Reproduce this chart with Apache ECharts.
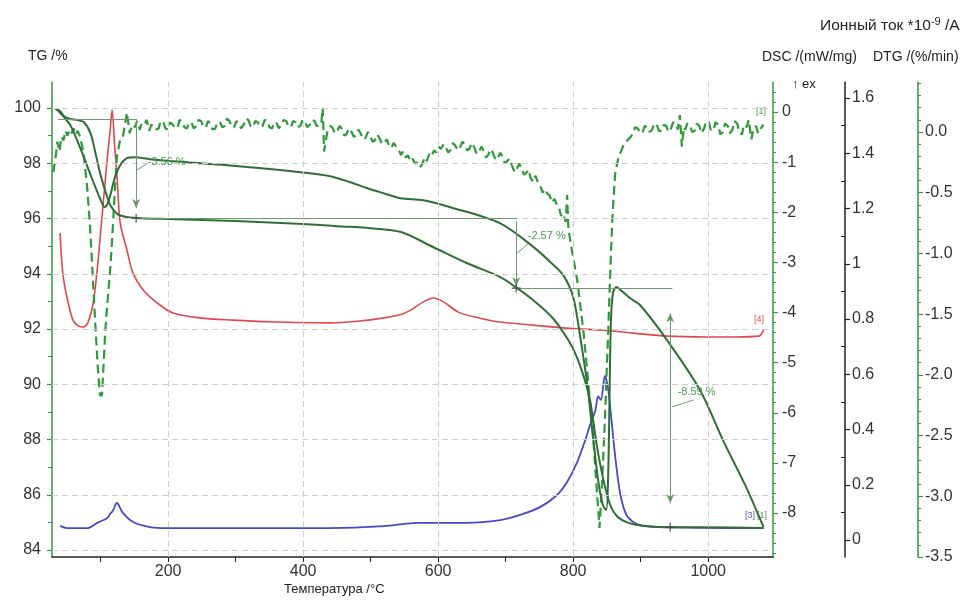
<!DOCTYPE html>
<html><head><meta charset="utf-8">
<script src="https://cdn.jsdelivr.net/npm/echarts@6/dist/echarts.min.js"></script>
<style>html,body{margin:0;padding:0;background:#fff}#c{width:974px;height:602px}</style>
</head><body><div id="c"></div>
<script>
// ---------- tick labels ----------
const xTicks = [200, 400, 600, 800, 1000];
const xTickMarks = [100, 200, 300, 400, 500, 600, 700, 800, 900, 1000];
const tgTicks = [84, 86, 88, 90, 92, 94, 96, 98, 100];
const dscTicks = [0, -1, -2, -3, -4, -5, -6, -7, -8];
const ionTicks = [0, 0.2, 0.4, 0.6, 0.8, 1.0, 1.2, 1.4, 1.6];
const dtgTicks = [0.0, -0.5, -1.0, -1.5, -2.0, -2.5, -3.0, -3.5];

// ---------- series data: [temperature °C, value] ----------
const tgData = [[35,99.96],[45,99.71],[55,99.60],[65,99.57],[75,99.49],[85,99.09],[92,98.41],[100,97.57],[108,96.92],[115,96.45],[125,96.16],[140,96.05],[160,96.01],[200,95.98],[300,95.91],[400,95.80],[450,95.72],[500,95.65],[545,95.51],[593,94.96],[643,94.38],[692,93.88],[717,93.48],[741,93.04],[770,92.39],[793,91.59],[805,91.01],[815,90.33],[825,89.42],[835,87.79],[845,86.52],[855,85.62],[865,85.22],[880,85.00],[900,84.89],[950,84.82],[1000,84.82],[1082,84.80]];

const dscData = [[33,0.06],[40,0.02],[47,-0.12],[55,-0.26],[62,-0.46],[74,-0.86],[87,-1.32],[99,-1.72],[106,-1.90],[110,-1.84],[114,-1.68],[121,-1.32],[129,-1.06],[139,-0.92],[151,-0.90],[173,-0.94],[247,-1.02],[321,-1.10],[396,-1.20],[440,-1.28],[470,-1.40],[495,-1.52],[519,-1.62],[544,-1.72],[578,-1.76],[618,-1.90],[692,-2.22],[741,-2.69],[766,-2.99],[785,-3.25],[800,-3.69],[810,-4.45],[821,-5.45],[830,-6.55],[837,-7.35],[844,-7.84],[849,-7.94],[852,-7.15],[854,-5.55],[856,-4.15],[859,-3.61],[864,-3.49],[870,-3.55],[884,-3.71],[899,-3.85],[939,-4.55],[988,-5.55],[1022,-6.55],[1055,-7.45],[1082,-8.28]];

const dtgData = [[30,-0.33],[33,-0.22],[36,-0.08],[39,-0.16],[42,-0.04],[45,-0.07],[48,0.01],[51,-0.03],[54,0.02],[57,-0.01],[60,0.03],[63,-0.02],[66,0.01],[69,-0.03],[72,-0.10],[75,-0.18],[80,-0.45],[84,-0.75],[88,-1.15],[92,-1.57],[96,-1.95],[99,-2.17],[102,-2.17],[105,-1.85],[107,-1.63],[110,-1.41],[114,-1.15],[117,-0.89],[121,-0.50],[124,-0.21],[129,-0.06],[133,-0.04],[139,0.16],[143,-0.01],
[147,0.06],[151,0.04],[154,0.09],[158,0.02],[161,0.07],[165,0.06],[168,0.10],[172,0.01],[175,0.06],[179,0.05],[182,0.02],[186,0.03],[189,0.09],[193,0.08],[196,0.03],[200,0.02],[203,0.08],[207,0.06],[210,0.03],[214,0.04],[217,0.10],[221,0.08],[224,0.04],[228,0.03],[231,0.08],[235,0.07],[238,0.03],[242,0.05],[245,0.10],[249,0.09],[252,0.04],[256,0.04],[259,0.09],[263,0.07],[266,0.02],[270,0.03],[273,0.08],[277,0.08],[280,0.04],[284,0.05],[287,0.11],[291,0.09],[294,0.04],[298,0.04],[301,0.09],[305,0.07],[308,0.03],[312,0.06],[315,0.11],[319,0.10],[322,0.05],[326,0.04],[329,0.09],[333,0.08],[336,0.04],[340,0.05],[343,0.10],[347,0.09],[350,0.04],[354,0.03],[357,0.08],[361,0.07],[364,0.03],[368,0.06],[371,0.10],[375,0.09],[378,0.05],[382,0.04],[385,0.09],[389,0.08],[392,0.04],[396,0.05],[399,0.10],[403,0.08],[406,0.04],[410,0.06],[413,0.10],[417,0.09],[420,0.05],[424,0.05],[427,0.08],
[429,0.20],[431,-0.16],[436,0.01],[440,0.05],[443,0.04],[447,-0.01],[450,0.00],[454,0.05],[457,0.03],[461,-0.03],[464,-0.02],[468,0.03],[471,0.01],[475,-0.04],[478,-0.03],[482,0.02],[485,-0.01],[489,-0.06],[492,-0.05],[496,0.00],[499,-0.03],[503,-0.08],[506,-0.07],[510,-0.02],[513,-0.05],[517,-0.10],[520,-0.09],[524,-0.06],[527,-0.11],[531,-0.13],[534,-0.09],[538,-0.12],[541,-0.14],[545,-0.19],[548,-0.16],[552,-0.21],[555,-0.19],[559,-0.24],[562,-0.22],[566,-0.26],[569,-0.25],[573,-0.29],[576,-0.27],[580,-0.21],[583,-0.24],[587,-0.18],[590,-0.20],[594,-0.15],[597,-0.17],[601,-0.12],[604,-0.14],[608,-0.10],[611,-0.12],[615,-0.17],[618,-0.15],[622,-0.09],[625,-0.11],[629,-0.15],[632,-0.13],[636,-0.08],[639,-0.10],[643,-0.15],[646,-0.14],[650,-0.09],[653,-0.12],[657,-0.18],[660,-0.17],[664,-0.12],[667,-0.15],[671,-0.21],[674,-0.19],[678,-0.14],[681,-0.17],[685,-0.23],[688,-0.22],[692,-0.17],[695,-0.20],[699,-0.26],[702,-0.24],[706,-0.22],[709,-0.27],[713,-0.33],[716,-0.31],[720,-0.26],[723,-0.29],[727,-0.35],[730,-0.34],[734,-0.31],[737,-0.38],[741,-0.41],[744,-0.36],[748,-0.42],[751,-0.44],[755,-0.50],[758,-0.47],[762,-0.51],[765,-0.52],[769,-0.58],[772,-0.55],[776,-0.60],[779,-0.62],[782,-0.69],[785,-0.67],[789,-0.74],[791,-0.52],[793,-0.80],[798,-0.97],[806,-1.22],[815,-1.63],[822,-2.04],[830,-2.54],[836,-3.03],[839,-3.26],[843,-2.87],[847,-2.37],[852,-1.63],[855,-1.14],[858,-0.72],[862,-0.35],[867,-0.21],[873,-0.13],[877,-0.08],[880,-0.07],[885,-0.04],[889,-0.01],
[892,0.04],[896,0.03],[899,-0.01],[903,0.00],[906,0.05],[910,0.04],[913,0.00],[917,0.02],[920,0.07],[924,0.06],[927,0.01],[931,0.01],[934,0.06],[938,0.05],[941,0.00],[945,0.03],[948,0.08],[952,0.07],[955,0.02],[958,0.14],[961,-0.12],[964,0.04],[966,0.02],[969,0.07],[973,0.06],[976,0.00],[980,0.01],[983,0.07],[987,0.05],[990,-0.01],[994,0.03],[997,0.09],[1001,0.08],[1004,0.01],[1008,0.02],[1011,0.08],[1015,0.06],[1018,-0.02],[1022,0.00],[1025,0.07],[1029,0.05],[1032,-0.01],[1036,0.02],[1039,0.09],[1043,0.07],[1046,0.00],[1050,-0.02],[1053,0.06],[1057,0.04],[1060,0.10],[1064,-0.06],[1067,0.03],[1071,0.05],[1074,-0.01],[1078,0.03],[1082,0.06]];

const ionRedData = [[40,1.111],[44,0.966],[50,0.880],[59,0.796],[67,0.775],[74,0.771],[81,0.786],[89,0.858],[95,0.98],[99,1.086],[105,1.25],[110,1.386],[114,1.48],[117,1.557],[121,1.42],[124,1.33],[129,1.148],[139,1.05],[148,0.966],[163,0.905],[184,0.858],[207,0.822],[247,0.804],[296,0.796],[350,0.790],[440,0.786],[480,0.792],[520,0.804],[545,0.816],[560,0.833],[578,0.862],[593,0.876],[608,0.862],[630,0.825],[660,0.804],[692,0.789],[741,0.778],[790,0.767],[840,0.760],[889,0.749],[939,0.738],[1000,0.735],[1040,0.735],[1075,0.738],[1082,0.76]];

const ionBlueData = [[40,0.051],[50,0.043],[80,0.043],[95,0.062],[110,0.080],[114,0.095],[118,0.105],[124,0.134],[133,0.098],[148,0.065],[173,0.047],[199,0.043],[440,0.043],[520,0.050],[569,0.062],[643,0.062],[692,0.072],[717,0.087],[751,0.119],[776,0.163],[791,0.210],[806,0.282],[818,0.362],[825,0.416],[833,0.471],[837,0.521],[841,0.507],[847,0.594],[852,0.543],[856,0.452],[862,0.308],[870,0.163],[880,0.087],[899,0.054],[929,0.047],[1082,0.043]];

// ---------- step annotations (TG units) ----------
const stepLevels = [[37,154,99.60],[152.6,717,96.01],[715.6,947,93.48]];   // [T from, T to, TG]
const stepArrows = [[152.6,99.60,96.38,'none','arrow'],[715.6,95.90,93.55,'none','arrow'],[943.7,92.57,85.69,'arrow','arrow']];
const stepMarks = [[152.6,96.01],[715.6,93.48],[943.7,84.82]];
const stepLabelPos = [[169,98.05],[732,95.37],[954,89.72]];
const stepLabels = ['-3.56 %','-2.57 %','-8.59 %'];
const stepLeaders = [[154,97.76,168,97.97],[717,94.75,733,95.08],[947,89.18,978,89.43]];

// ---------- ranges ----------
const xRange = [28, 1096];
const tgRange = [83.747, 100.941];
const dscRange = [-8.878, 0.599];
const ionRange = [-0.0615, 1.658];
const dtgRange = [-3.5, 0.412];

function steps(a, b, s, skip) {
  const out = [];
  for (let v = a; v >= b - 1e-9; v -= s) {
    const r = Math.round(v * 1000) / 1000;
    if (!skip(r)) out.push(r);
  }
  return out;
}
const isMult = (v, m) => Math.abs(v / m - Math.round(v / m)) < 1e-6;
const tgMinor = steps(99, 85, 2, () => false);
const dscMinor = steps(0.4, -8.8, 0.2, v => isMult(v, 1));
const ionMinor = steps(1.6, 0, 0.1, v => isMult(v, 0.2));
const dtgMinor = steps(0.4, -3.5, 0.1, v => isMult(v, 0.5));

const GREEN_AX = '#2f9a3e';
const FONT = 'Liberation Sans, Arial, sans-serif';
const labelStyle = {fontSize: 16, color: '#333', fontFamily: FONT};

function majorAxis(o) {
  return Object.assign({
    type: 'value', splitLine: {show: false},
    axisLine: {show: true, onZero: false, lineStyle: {color: o.color, width: 1.5}},
    axisTick: {show: true, customValues: o.ticks, length: 5, inside: false, lineStyle: {color: o.color, width: 1.2}},
    axisLabel: Object.assign({customValues: o.ticks, margin: o.margin, formatter: o.fmt}, labelStyle)
  }, {position: o.position, offset: o.offset || 0, min: o.range[0], max: o.range[1]});
}
function minorAxis(o) {
  return {
    type: 'value', position: o.position, offset: o.offset || 0, min: o.range[0], max: o.range[1],
    splitLine: {show: false}, axisLine: {show: false, onZero: false}, axisLabel: {show: false},
    axisTick: {show: true, customValues: o.ticks, length: o.len || 3, inside: !!o.inside, lineStyle: {color: o.color, width: 1}}
  };
}

const yAxes = [
  majorAxis({position: 'left', range: tgRange, ticks: tgTicks, color: GREEN_AX, margin: 11}),
  majorAxis({position: 'right', range: dscRange, ticks: dscTicks, color: GREEN_AX, margin: 9}),
  majorAxis({position: 'right', offset: 72, range: ionRange, ticks: ionTicks, color: '#222', margin: 7}),
  majorAxis({position: 'right', offset: 145, range: dtgRange, ticks: dtgTicks, color: GREEN_AX, margin: 7, fmt: v => v.toFixed(1)}),
  minorAxis({position: 'left', range: tgRange, ticks: tgMinor, color: GREEN_AX, len: 4}),
  minorAxis({position: 'right', range: dscRange, ticks: dscMinor, color: GREEN_AX, len: 3}),
  minorAxis({position: 'right', offset: 72, range: ionRange, ticks: ionMinor, color: '#222', len: 4, inside: true}),
  minorAxis({position: 'right', offset: 145, range: dtgRange, ticks: dtgMinor, color: GREEN_AX, len: 3})
];

const annLine = {color: '#6f9a6f', width: 1, type: 'solid'};
const markLines = [];
stepLevels.forEach(s => markLines.push([{coord: [s[0], s[2]], symbol: 'none'}, {coord: [s[1], s[2]], symbol: 'none'}]));
stepArrows.forEach(s => markLines.push([{coord: [s[0], s[1]], symbol: s[3], symbolSize: [6, 9]}, {coord: [s[0], s[2]], symbol: s[4], symbolSize: [6, 9]}]));
stepLeaders.forEach(s => markLines.push([{coord: [s[0], s[1]], symbol: 'none'}, {coord: [s[2], s[3]], symbol: 'none'}]));

const plusPath = 'path://M0,4.4H10V5.6H0ZM4.4,0H5.6V10H4.4Z';
const markPoints = [];
stepMarks.forEach(p => markPoints.push({coord: p, symbol: plusPath, symbolSize: 9, itemStyle: {color: '#3b4a3b'}, label: {show: false}}));
stepLabelPos.forEach((p, i) => markPoints.push({
  coord: p, symbol: 'rect', symbolSize: 1, itemStyle: {color: 'rgba(0,0,0,0)'},
  label: {show: true, position: 'right', distance: 0, formatter: stepLabels[i], color: '#4f9a55', fontSize: 11, fontFamily: FONT}
}));

const gridLines = tgTicks.map(v => ({yAxis: v})).concat(xTicks.map(v => ({xAxis: v})));

const option = {
  animation: false,
  backgroundColor: '#fff',
  grid: {left: 52, right: 201, top: 82, bottom: 45, containLabel: false},
  xAxis: {
    type: 'value', min: xRange[0], max: xRange[1], splitLine: {show: false}, position: 'bottom',
    axisLine: {show: true, onZero: false, lineStyle: {color: '#222', width: 1.5}},
    axisTick: {show: true, customValues: xTickMarks, length: 5, lineStyle: {color: '#222'}},
    axisLabel: Object.assign({customValues: xTicks, margin: 7, formatter: v => String(v)}, labelStyle)
  },
  yAxis: yAxes,
  graphic: [
    {type: 'text', left: 28, top: 49, style: {text: 'TG /%', fontSize: 14, fill: '#222', fontFamily: FONT}},
    {type: 'text', left: 820, top: 16, style: {text: 'Ионный ток *10{s|-9} /A', fontSize: 15.5, fill: '#222', fontFamily: FONT,
      rich: {s: {fontSize: 11, verticalAlign: 'top', fill: '#222', padding: [0, 0, 8, 0], fontFamily: FONT}}}},
    {type: 'text', left: 762, top: 50, style: {text: 'DSC /(mW/mg)', fontSize: 14, fill: '#222', fontFamily: FONT}},
    {type: 'text', left: 873, top: 50, style: {text: 'DTG /(%/min)', fontSize: 14, fill: '#222', fontFamily: FONT}},
    {type: 'text', left: 792, top: 78, style: {text: '↑ ex', fontSize: 13, fill: '#222', fontFamily: FONT}},
    {type: 'text', left: 284, top: 583, style: {text: 'Температура /°C', fontSize: 13, fill: '#222', fontFamily: FONT}},
    {type: 'text', left: 756, top: 107, style: {text: '[1]', fontSize: 9, fill: '#4f9a55', fontFamily: FONT}},
    {type: 'text', left: 754, top: 315, style: {text: '[4]', fontSize: 9, fill: '#e04a50', fontFamily: FONT}},
    {type: 'text', left: 745, top: 511, style: {text: '[3]', fontSize: 9, fill: '#5a5ad0', fontFamily: FONT}},
    {type: 'text', left: 757, top: 511, style: {text: '[1]', fontSize: 9, fill: '#4f9a55', fontFamily: FONT}}
  ],
  series: [
    {type: 'line', name: 'grid', z: 0, xAxisIndex: 0, yAxisIndex: 0, data: [[xRange[0], tgRange[0]]], showSymbol: false, silent: true,
      lineStyle: {opacity: 0},
      markLine: {silent: true, symbol: ['none', 'none'], label: {show: false}, animation: false,
        lineStyle: {color: '#cfcfcf', type: [6, 4], width: 1}, data: gridLines}},
    {type: 'line', name: 'Ion red', yAxisIndex: 2, data: ionRedData, showSymbol: false, smooth: 0.3, z: 2,
      lineStyle: {color: '#e2474f', width: 1.6}},
    {type: 'line', name: 'Ion blue', yAxisIndex: 2, data: ionBlueData, showSymbol: false, smooth: 0.3, z: 2,
      lineStyle: {color: '#4848c8', width: 1.8}},
    {type: 'line', name: 'DTG', yAxisIndex: 3, data: dtgData, showSymbol: false, z: 3,
      lineStyle: {color: '#2e9a3a', width: 2.2, type: [9, 5]}},
    {type: 'line', name: 'DSC', yAxisIndex: 1, data: dscData, showSymbol: false, smooth: 0.3, z: 3,
      lineStyle: {color: '#2f6f36', width: 2}},
    {type: 'line', name: 'TG', yAxisIndex: 0, data: tgData, showSymbol: false, smooth: 0.3, z: 3,
      lineStyle: {color: '#2f6f36', width: 2},
      markLine: {silent: true, symbol: ['none', 'none'], label: {show: false}, lineStyle: annLine, data: markLines},
      markPoint: {silent: true, data: markPoints}}
  ]
};
const chart = echarts.init(document.getElementById('c'), null, {renderer: 'canvas'});
chart.setOption(option);
</script></body></html>
